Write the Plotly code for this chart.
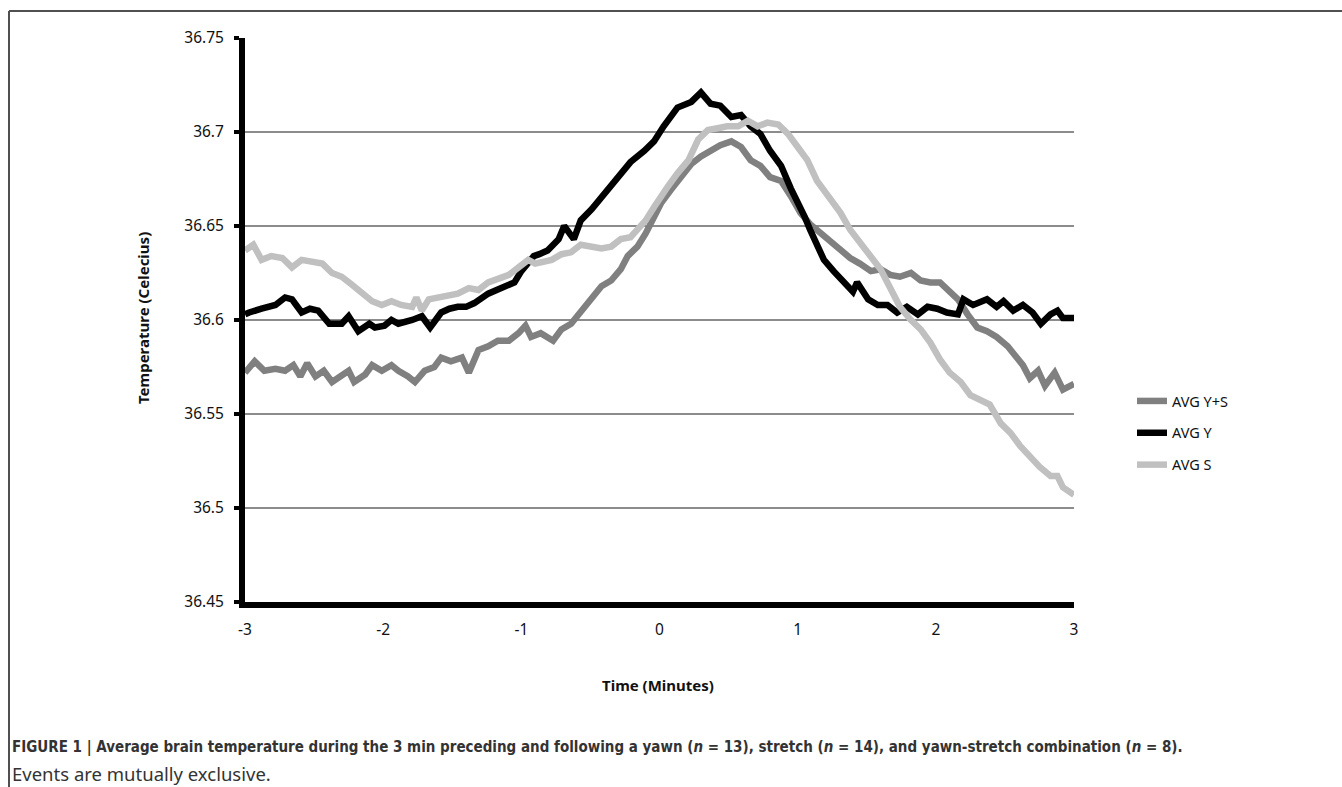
import plotly.graph_objects as go

# ---- data ----
t_ys = [-3.00, -2.93, -2.86, -2.78, -2.71, -2.65, -2.60, -2.55, -2.49, -2.43, -2.37, -2.30, -2.25, -2.21,
        -2.13, -2.08, -2.01, -1.94, -1.89, -1.82, -1.77, -1.70, -1.63, -1.58, -1.51, -1.43, -1.38, -1.31,
        -1.24, -1.17, -1.09, -1.02, -0.97, -0.93, -0.86, -0.77, -0.71, -0.64, -0.57, -0.49, -0.42, -0.35,
        -0.28, -0.23, -0.16, -0.10, -0.05, 0.01, 0.08, 0.16, 0.23, 0.30, 0.37, 0.44, 0.52, 0.59, 0.66,
        0.73, 0.80, 0.88, 0.95, 1.02, 1.09, 1.17, 1.24, 1.31, 1.38, 1.45, 1.53, 1.60, 1.67, 1.74, 1.82,
        1.89, 1.96, 2.03, 2.10, 2.16, 2.23, 2.30, 2.37, 2.44, 2.52, 2.59, 2.63, 2.68, 2.74, 2.79, 2.86,
        2.92, 3.00]
avg_ys = [36.572, 36.578, 36.573, 36.574, 36.573, 36.576, 36.570, 36.577, 36.570, 36.573, 36.567, 36.570,
          36.573, 36.567, 36.571, 36.576, 36.573, 36.576, 36.573, 36.570, 36.567, 36.573, 36.575, 36.580,
          36.578, 36.580, 36.572, 36.584, 36.586, 36.589, 36.589, 36.593, 36.597, 36.591, 36.593, 36.589,
          36.595, 36.598, 36.604, 36.611, 36.618, 36.621, 36.627, 36.634, 36.639, 36.646, 36.653, 36.662,
          36.669, 36.676, 36.683, 36.687, 36.690, 36.693, 36.695, 36.692, 36.685, 36.682, 36.676, 36.674,
          36.666, 36.657, 36.651, 36.646, 36.641, 36.637, 36.633, 36.630, 36.626, 36.627, 36.624, 36.623,
          36.625, 36.621, 36.620, 36.620, 36.615, 36.611, 36.603, 36.596, 36.594, 36.591, 36.586, 36.580,
          36.576, 36.569, 36.573, 36.565, 36.572, 36.563, 36.566]

t_y = [-3.00, -2.97, -2.88, -2.78, -2.71, -2.66, -2.59, -2.53, -2.47, -2.39, -2.30, -2.25, -2.18, -2.10,
       -2.06, -1.99, -1.94, -1.89, -1.79, -1.72, -1.66, -1.58, -1.52, -1.46, -1.40, -1.34, -1.24, -1.14,
       -1.05, -1.00, -0.95, -0.91, -0.87, -0.81, -0.73, -0.69, -0.62, -0.57, -0.49, -0.40, -0.30, -0.21,
       -0.11, -0.04, 0.03, 0.13, 0.23, 0.30, 0.37, 0.44, 0.52, 0.59, 0.66, 0.73, 0.80, 0.88, 0.95, 1.00,
       1.05, 1.09, 1.14, 1.19, 1.26, 1.33, 1.40, 1.43, 1.51, 1.58, 1.65, 1.72, 1.79, 1.87, 1.94, 2.01,
       2.08, 2.16, 2.20, 2.27, 2.37, 2.44, 2.49, 2.56, 2.63, 2.70, 2.76, 2.83, 2.88, 2.92, 3.00]
avg_y = [36.603, 36.604, 36.606, 36.608, 36.612, 36.611, 36.604, 36.606, 36.605, 36.598, 36.598, 36.602,
         36.594, 36.598, 36.596, 36.597, 36.600, 36.598, 36.600, 36.602, 36.596, 36.604, 36.606, 36.607,
         36.607, 36.609, 36.614, 36.617, 36.620, 36.626, 36.630, 36.634, 36.635, 36.637, 36.643, 36.650,
         36.643, 36.653, 36.659, 36.667, 36.676, 36.684, 36.690, 36.695, 36.703, 36.713, 36.716, 36.721,
         36.715, 36.714, 36.708, 36.709, 36.703, 36.699, 36.690, 36.682, 36.670, 36.663, 36.655, 36.648,
         36.639, 36.632, 36.626, 36.621, 36.615, 36.620, 36.611, 36.608, 36.608, 36.604, 36.607, 36.603,
         36.607, 36.606, 36.604, 36.603, 36.611, 36.608, 36.611, 36.607, 36.610, 36.605, 36.608, 36.604,
         36.598, 36.603, 36.605, 36.601, 36.601]

t_s = [-3.00, -2.94, -2.88, -2.81, -2.73, -2.66, -2.59, -2.52, -2.44, -2.37, -2.30, -2.23, -2.16, -2.08,
       -2.01, -1.94, -1.87, -1.79, -1.76, -1.72, -1.67, -1.60, -1.53, -1.46, -1.38, -1.31, -1.24, -1.17,
       -1.09, -1.02, -0.95, -0.90, -0.78, -0.71, -0.64, -0.57, -0.49, -0.42, -0.35, -0.28, -0.21, -0.16,
       -0.10, -0.04, 0.01, 0.06, 0.13, 0.21, 0.28, 0.35, 0.42, 0.49, 0.57, 0.64, 0.71, 0.78, 0.86, 0.93,
       1.00, 1.07, 1.14, 1.20, 1.25, 1.31, 1.38, 1.45, 1.53, 1.60, 1.67, 1.74, 1.82, 1.89, 1.96, 2.03,
       2.10, 2.18, 2.25, 2.32, 2.39, 2.47, 2.54, 2.61, 2.68, 2.75, 2.83, 2.88, 2.92, 3.00]
avg_s = [36.637, 36.640, 36.632, 36.634, 36.633, 36.628, 36.632, 36.631, 36.630, 36.625, 36.623, 36.619,
         36.615, 36.610, 36.608, 36.610, 36.608, 36.607, 36.612, 36.605, 36.611, 36.612, 36.613, 36.614,
         36.617, 36.616, 36.620, 36.622, 36.624, 36.628, 36.632, 36.630, 36.632, 36.635, 36.636, 36.640,
         36.639, 36.638, 36.639, 36.643, 36.644, 36.648, 36.653, 36.660, 36.666, 36.671, 36.678, 36.685,
         36.696, 36.701, 36.702, 36.703, 36.703, 36.706, 36.703, 36.705, 36.704, 36.699, 36.692, 36.685,
         36.674, 36.668, 36.663, 36.657, 36.648, 36.641, 36.634, 36.627, 36.617, 36.607, 36.600, 36.595,
         36.588, 36.579, 36.572, 36.567, 36.560, 36.557, 36.555, 36.545, 36.540, 36.533, 36.527, 36.522,
         36.517, 36.517, 36.511, 36.507]

series_names = ["AVG Y+S", "AVG Y", "AVG S"]
series_colors = ["#808080", "#000000", "#c0c0c0"]

y_tickvals = [36.45, 36.5, 36.55, 36.6, 36.65, 36.7, 36.75]
y_ticktext = ["36.45", "36.5", "36.55", "36.6", "36.65", "36.7", "36.75"]
x_tickvals = [-3, -2, -1, 0, 1, 2, 3]
x_ticktext = ["-3", "-2", "-1", "0", "1", "2", "3"]

caption_bold = ("FIGURE 1 | Average brain temperature during the 3 min preceding and following a yawn "
                "(<i>n</i> = 13), stretch (<i>n</i> = 14), and yawn-stretch combination (<i>n</i> = 8).")
caption_rest = "Events are mutually exclusive."

fig = go.Figure()
for i, (tx, vals) in enumerate([(t_ys, avg_ys), (t_y, avg_y), (t_s, avg_s)]):
    fig.add_trace(go.Scatter(
        x=tx, y=vals, mode="lines", name=series_names[i],
        legendgroup=series_names[i],
        line=dict(color=series_colors[i], width=6.5),
    ))

# figure fills the whole window (body margin removed by the post script)
W, H = 1342, 787
L, T = 245, 38
R = W - 1074
B = H - 602
pw, ph = W - L - R, H - T - B


def px(x):  # window pixel x -> paper
    return (x - L) / pw


def py(y):  # window pixel y -> paper
    return (H - B - y) / ph


tick_font = dict(family="Noto Sans, Open Sans, sans-serif", size=15.5, color="#111")

fig.update_layout(
    width=W, height=H,
    margin=dict(l=L, r=R, t=T, b=B),
    paper_bgcolor="white", plot_bgcolor="white",
    showlegend=True,
    legend=dict(x=px(1132), y=py(385), xanchor="left", yanchor="top",
                font=dict(family="Noto Sans, Open Sans, sans-serif", size=14.5, color="#111"),
                tracegroupgap=10, bgcolor="rgba(0,0,0,0)"),
    xaxis=dict(range=[-3, 3], tickvals=x_tickvals, ticktext=x_ticktext,
               showgrid=False, zeroline=False, showline=True, linecolor="black", linewidth=6,
               ticks="", ticklabelstandoff=8, tickfont=tick_font),
    yaxis=dict(range=[36.45, 36.75], tickvals=y_tickvals, ticktext=y_ticktext,
               showgrid=True, gridcolor="#8c8c8c", gridwidth=1.5, zeroline=False,
               showline=True, linecolor="black", linewidth=6,
               ticks="outside", ticklen=5, tickwidth=4, tickcolor="black",
               ticklabelstandoff=7, tickfont=tick_font),
    annotations=[
        dict(text="<b>Temperature (Celecius)</b>", x=px(143), y=py(318), xref="paper", yref="paper",
             showarrow=False, textangle=-90, xanchor="center", yanchor="middle",
             font=dict(family="Noto Sans, Open Sans, sans-serif", size=15, color="#111")),
        dict(text="<b>Time (Minutes)</b>", x=px(658), y=py(685), xref="paper", yref="paper",
             showarrow=False, xanchor="center", yanchor="middle",
             font=dict(family="Noto Sans, Open Sans, sans-serif", size=15, color="#111")),
        dict(text="<b>" + caption_bold + "</b>", x=px(10), y=py(747), xref="paper", yref="paper",
             showarrow=False, xanchor="left", yanchor="middle",
             font=dict(family="Liberation Sans Narrow, DejaVu Sans Condensed, sans-serif", size=15,
                       color="#333")),
        dict(text=caption_rest, x=px(10), y=py(773), xref="paper", yref="paper",
             showarrow=False, xanchor="left", yanchor="middle",
             font=dict(family="Noto Sans, Open Sans, sans-serif", size=18.5, color="#333")),
    ],
    shapes=[
        dict(type="line", xref="paper", yref="paper", x0=px(9), x1=px(1342), y0=py(11), y1=py(11),
             line=dict(color="#505050", width=2)),
        dict(type="line", xref="paper", yref="paper", x0=px(9), x1=px(9), y0=py(11), y1=py(787),
             line=dict(color="#505050", width=2)),
    ],
)

fig.write_html("out.html", config={"displayModeBar": False},
               post_script="document.body.style.margin='0px';document.body.style.overflow='hidden';")
